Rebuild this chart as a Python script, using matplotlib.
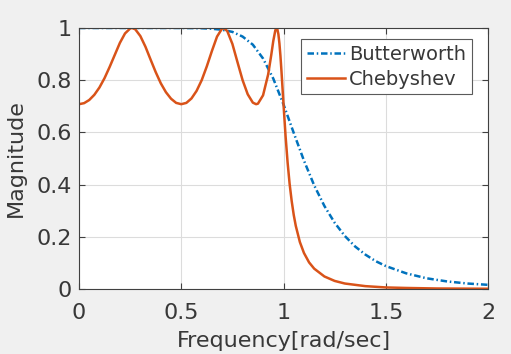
import matplotlib.pyplot as plt

# frequency response
butter_w = [0, 0.1, 0.2, 0.3, 0.4, 0.5, 0.6, 0.65, 0.7, 0.75, 0.8, 0.85, 0.9, 0.95, 1.0,
            1.05, 1.1, 1.15, 1.2, 1.25, 1.3, 1.35, 1.4, 1.45, 1.5, 1.6, 1.7, 1.8, 1.9, 2.0]
butter_mag = [1.0, 1.0, 1.0, 1.0, 1.0, 1.0, 0.999, 0.997, 0.993, 0.985, 0.967, 0.936, 0.883, 0.806, 0.707,
              0.598, 0.492, 0.397, 0.318, 0.254, 0.203, 0.163, 0.132, 0.107, 0.088, 0.060, 0.041, 0.029, 0.021, 0.016]

cheb_w = [0, 0.025, 0.05, 0.075, 0.1, 0.125, 0.15, 0.175, 0.2, 0.225, 0.25, 0.259,
          0.275, 0.3, 0.325, 0.35, 0.375, 0.4, 0.425, 0.45, 0.475, 0.5,
          0.525, 0.55, 0.575, 0.6, 0.625, 0.65, 0.675, 0.7, 0.707,
          0.725, 0.75, 0.775, 0.8, 0.825, 0.85, 0.866, 0.875, 0.9, 0.925, 0.94, 0.95, 0.96, 0.966,
          0.97, 0.975, 0.98, 0.985, 0.99, 0.995, 1.0,
          1.01, 1.02, 1.03, 1.04, 1.05, 1.06, 1.08, 1.1, 1.125, 1.15,
          1.2, 1.25, 1.3, 1.4, 1.5, 1.6, 1.75, 2.0]
cheb_mag = [0.708, 0.712, 0.724, 0.744, 0.772, 0.808, 0.851, 0.897, 0.943, 0.979, 0.998, 1.0,
            0.995, 0.969, 0.928, 0.879, 0.831, 0.788, 0.754, 0.729, 0.713, 0.708,
            0.713, 0.730, 0.759, 0.800, 0.853, 0.912, 0.967, 0.998, 1.0,
            0.988, 0.939, 0.869, 0.800, 0.746, 0.714, 0.708, 0.710, 0.742, 0.822, 0.896, 0.950, 0.991, 1.0,
            0.995, 0.976, 0.941, 0.893, 0.835, 0.772, 0.708,
            0.587, 0.485, 0.402, 0.337, 0.284, 0.242, 0.180, 0.138, 0.102, 0.078,
            0.048, 0.031, 0.021, 0.011, 0.006, 0.004, 0.002, 0.001]

x_ticks = [0, 0.5, 1, 1.5, 2]
x_labels = ['0', '0.5', '1', '1.5', '2']
y_ticks = [0, 0.2, 0.4, 0.6, 0.8, 1]
y_labels = ['0', '0.2', '0.4', '0.6', '0.8', '1']

plt.rcParams['font.family'] = ['DejaVu Sans']
txt = '#383838'

fig = plt.figure(figsize=(5.11, 3.54), dpi=100, facecolor='#f0f0f0')
ax = fig.add_axes([0.1546, 0.1836, 0.8004, 0.7374])

ax.plot(butter_w, butter_mag, color='#0072BD', lw=1.8,
        linestyle=(0, (2.6, 1.1, 0.6, 1.1)), label='Butterworth')
ax.plot(cheb_w, cheb_mag, color='#D95319', lw=1.8, label='Chebyshev')

ax.set_xlim(0, 2)
ax.set_ylim(0, 1)
ax.set_xticks(x_ticks)
ax.set_xticklabels(x_labels)
ax.set_yticks(y_ticks)
ax.set_yticklabels(y_labels)
ax.grid(True, color='#dcdcdc', lw=0.8)
ax.set_axisbelow(True)
ax.tick_params(direction='in', top=True, right=True, length=4, width=0.8,
               colors='#404040', labelsize=16, labelcolor=txt)
ax.tick_params(axis='x', pad=10)
ax.tick_params(axis='y', pad=5)
for s in ax.spines.values():
    s.set_color('#404040')
    s.set_linewidth(0.8)

ax.set_xlabel('Frequency[rad/sec]', fontsize=16, color=txt, labelpad=6)
ax.set_ylabel('Magnitude', fontsize=16, color=txt, labelpad=8)

leg = ax.legend(loc='upper right', fontsize=14, fancybox=False, framealpha=1,
                edgecolor='#5a5a5a', handlelength=2.0, handletextpad=0.2,
                borderpad=0.3, labelspacing=0.3, bbox_to_anchor=(0.985, 0.995))
leg.get_frame().set_linewidth(0.8)
for t in leg.get_texts():
    t.set_color(txt)

fig.savefig('out.png', dpi=100, facecolor=fig.get_facecolor())
